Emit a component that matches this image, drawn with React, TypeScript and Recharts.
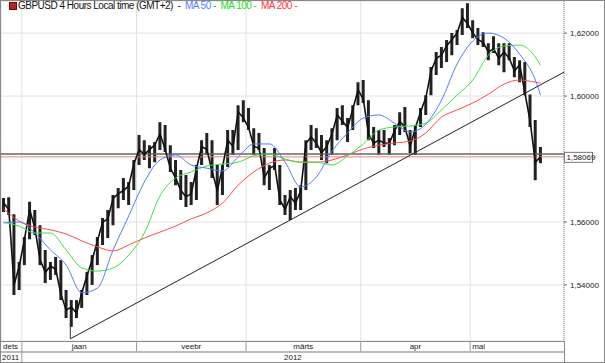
import React from "react";
import {
  ComposedChart, Bar, Line, XAxis, YAxis, CartesianGrid, ReferenceLine,
} from "recharts";

// trading days shown per month (Estonian month names as in the terminal)
const MONTHS = ["dets", "jaan", "veebr", "märts", "apr", "mai"];
const MONTH_DAYS = [
  [27, 28, 29, 30],
  [2, 3, 4, 5, 6, 9, 10, 11, 12, 13, 16, 17, 18, 19, 20, 23, 24, 25, 26, 27, 30, 31],
  [1, 2, 3, 6, 7, 8, 9, 10, 13, 14, 15, 16, 17, 20, 21, 22, 23, 24, 27, 28, 29],
  [1, 2, 5, 6, 7, 8, 9, 12, 13, 14, 15, 16, 19, 20, 21, 22, 23, 26, 27, 28, 29, 30],
  [2, 3, 4, 5, 6, 9, 10, 11, 12, 13, 16, 17, 18, 19, 20, 23, 24, 25, 26, 27, 30],
  [1, 2, 3, 4, 7, 8, 9, 10, 11, 14, 15, 16, 17, 18, 21, 22, 23, 24],
];
const YEARS = ["2011", "2012"];
const YEAR_FIRST_MONTH = [0, 1];

// daily high / low / close of GBPUSD
const HIGH = [
  1.5676, 1.5679, 1.5625, 1.5473, 1.5552, 1.5664, 1.5638, 1.5590, 1.5511, 1.5473,
  1.5489, 1.5479, 1.5384, 1.5352, 1.5352, 1.5384, 1.5441, 1.5495, 1.5552, 1.5613,
  1.5638, 1.5686, 1.5708, 1.5740, 1.5727, 1.5797, 1.5876, 1.5860, 1.5844, 1.5854,
  1.5917, 1.5908, 1.5844, 1.5797, 1.5765, 1.5749, 1.5727, 1.5781, 1.5860, 1.5883,
  1.5860, 1.5781, 1.5781, 1.5892, 1.5892, 1.5971, 1.5987, 1.5962, 1.5898, 1.5883,
  1.5835, 1.5781, 1.5835, 1.5781, 1.5686, 1.5702, 1.5708, 1.5717, 1.5860, 1.5908,
  1.5898, 1.5876, 1.5860, 1.5898, 1.5962, 1.5971, 1.5930, 1.5971, 1.6044, 1.6051,
  1.5987, 1.5902, 1.5892, 1.5892, 1.5867, 1.5908, 1.5949, 1.5965, 1.5892, 1.5908,
  1.5962, 1.6003, 1.6092, 1.6140, 1.6156, 1.6178, 1.6200, 1.6210, 1.6279, 1.6295,
  1.6241, 1.6216, 1.6203, 1.6168, 1.6190, 1.6168, 1.6168, 1.6168, 1.6124, 1.6114,
  1.6108, 1.6005, 1.5924, 1.5838,
];
const LOW = [
  1.5632, 1.5622, 1.5368, 1.5384, 1.5463, 1.5545, 1.5559, 1.5463, 1.5406, 1.5416,
  1.5432, 1.5352, 1.5295, 1.5267, 1.5295, 1.5327, 1.5368, 1.5400, 1.5463, 1.5527,
  1.5549, 1.5590, 1.5644, 1.5670, 1.5654, 1.5702, 1.5781, 1.5797, 1.5771, 1.5790,
  1.5829, 1.5822, 1.5759, 1.5717, 1.5670, 1.5648, 1.5654, 1.5670, 1.5781, 1.5813,
  1.5740, 1.5654, 1.5686, 1.5775, 1.5813, 1.5829, 1.5917, 1.5892, 1.5813, 1.5829,
  1.5717, 1.5702, 1.5765, 1.5654, 1.5622, 1.5606, 1.5638, 1.5638, 1.5702, 1.5829,
  1.5835, 1.5797, 1.5787, 1.5813, 1.5860, 1.5908, 1.5854, 1.5892, 1.5971, 1.5978,
  1.5860, 1.5835, 1.5813, 1.5838, 1.5813, 1.5844, 1.5876, 1.5886, 1.5819, 1.5813,
  1.5902, 1.5940, 1.6003, 1.6067, 1.6089, 1.6108, 1.6130, 1.6162, 1.6194, 1.6216,
  1.6184, 1.6162, 1.6156, 1.6114, 1.6137, 1.6098, 1.6076, 1.6114, 1.6060, 1.6044,
  1.6003, 1.5902, 1.5733, 1.5787,
];
const CLOSE = [
  1.5660, 1.5640, 1.5400, 1.5460, 1.5545, 1.5640, 1.5580, 1.5480, 1.5440, 1.5460,
  1.5450, 1.5370, 1.5320, 1.5330, 1.5310, 1.5375, 1.5430, 1.5480, 1.5540, 1.5600,
  1.5610, 1.5675, 1.5690, 1.5700, 1.5715, 1.5785, 1.5830, 1.5815, 1.5830, 1.5845,
  1.5880, 1.5830, 1.5770, 1.5740, 1.5700, 1.5680, 1.5690, 1.5770, 1.5840, 1.5830,
  1.5760, 1.5700, 1.5775, 1.5860, 1.5840, 1.5950, 1.5930, 1.5900, 1.5840, 1.5835,
  1.5740, 1.5770, 1.5780, 1.5670, 1.5640, 1.5680, 1.5660, 1.5700, 1.5850, 1.5870,
  1.5850, 1.5820, 1.5840, 1.5880, 1.5940, 1.5920, 1.5900, 1.5960, 1.6020, 1.5990,
  1.5880, 1.5850, 1.5860, 1.5850, 1.5850, 1.5890, 1.5920, 1.5900, 1.5840, 1.5900,
  1.5950, 1.5995, 1.6080, 1.6120, 1.6130, 1.6160, 1.6180, 1.6200, 1.6250, 1.6230,
  1.6200, 1.6180, 1.6170, 1.6140, 1.6150, 1.6120, 1.6140, 1.6120, 1.6080, 1.6100,
  1.6010, 1.5920, 1.5790, 1.58069,
];

// moving averages, read every third bar
const MA_AT = [
  0, 3, 6, 9, 12, 15, 18, 21, 24, 27, 30, 33, 36, 39, 42, 45, 48, 51,
  54, 57, 60, 63, 66, 69, 72, 75, 78, 81, 84, 87, 90, 93, 96, 99, 102, 103,
];
const MA50 = [
  1.5597, 1.5600, 1.5565, 1.5511, 1.5463, 1.5375, 1.5390, 1.5511, 1.5619, 1.5727,
  1.5797, 1.5813, 1.5781, 1.5771, 1.5762, 1.5806, 1.5848, 1.5848, 1.5790, 1.5711,
  1.5743, 1.5825, 1.5883, 1.5930, 1.5940, 1.5914, 1.5886, 1.5911, 1.5987, 1.6102,
  1.6175, 1.6200, 1.6184, 1.6133, 1.6051, 1.6003,
];
const MA100 = [
  1.5600, 1.5587, 1.5565, 1.5565, 1.5511, 1.5454, 1.5444, 1.5454, 1.5495, 1.5565,
  1.5683, 1.5740, 1.5759, 1.5778, 1.5784, 1.5790, 1.5810, 1.5816, 1.5800, 1.5790,
  1.5790, 1.5781, 1.5810, 1.5848, 1.5892, 1.5902, 1.5905, 1.5914, 1.5956, 1.6003,
  1.6051, 1.6130, 1.6159, 1.6162, 1.6124, 1.6098,
];
const MA200 = [
  1.5641, 1.5603, 1.5584, 1.5575, 1.5562, 1.5540, 1.5521, 1.5508, 1.5527, 1.5549,
  1.5568, 1.5587, 1.5610, 1.5629, 1.5660, 1.5717, 1.5759, 1.5787, 1.5797, 1.5790,
  1.5790, 1.5797, 1.5813, 1.5832, 1.5844, 1.5851, 1.5857, 1.5883, 1.5933, 1.5956,
  1.5978, 1.6006, 1.6038, 1.6051, 1.6044, 1.6041,
];

const LAST_PRICE = 1.58069;
const BID_LINE = 1.5816;
const TREND = [{ t: 13.3, v: 1.5229 }, { t: 108, v: 1.6076 }];
const TREND_ANCHOR = 1.528;
const Y_TICKS = [1.54, 1.56, 1.6, 1.62];
const Y_DOMAIN: [number, number] = [1.5222, 1.6302];

const W = 605;
const H = 363;
const AXIS_W = 41;
const AXIS_H = 22;
const FONT = "'Liberation Sans', Arial, sans-serif";

const monthStart: number[] = [];
const rows: any[] = [];
MONTH_DAYS.forEach((days, m) => {
  monthStart.push(rows.length);
  days.forEach((d) => {
    const i = rows.length;
    const k = MA_AT.indexOf(i);
    rows.push({
      t: i + 0.5,
      date: `${d}. ${MONTHS[m]}`,
      range: i < HIGH.length ? [LOW[i], HIGH[i]] : null,
      close: i < CLOSE.length ? CLOSE[i] : null,
      ma50: k >= 0 ? MA50[k] : null,
      ma100: k >= 0 ? MA100[k] : null,
      ma200: k >= 0 ? MA200[k] : null,
    });
  });
});
const N = rows.length;
const PLOT_W = W - 1 - AXIS_W;
const PX = PLOT_W / N;
const fmt = (v: number) => v.toFixed(5).replace(".", ",");

function MonthTick(props: any) {
  const { x, y, payload } = props;
  const m = monthStart.indexOf(payload.value);
  if (m < 0) return null;
  const w = MONTH_DAYS[m].length * PX;
  const edge = m === 0 || m === MONTHS.length - 1;
  const right = 1 + PLOT_W;
  return (
    <g fontFamily={FONT}>
      {m > 0 && <line x1={x} x2={x} y1={y} y2={y + 10} stroke="#9a9a9a" />}
      <text x={edge ? x + 2 : x + w / 2} y={y + 8} textAnchor={edge ? "start" : "middle"}
        fontSize={8} fill="#222">{MONTHS[m]}</text>
      {m === 0 && (
        <g>
          <line x1={0} x2={right} y1={y + 0.5} y2={y + 0.5} stroke="#888" />
          <line x1={0} x2={right} y1={y + 11} y2={y + 11} stroke="#bbb" strokeWidth={2} />
          <line x1={right + 0.5} x2={right + 0.5} y1={y} y2={y + 21} stroke="#888" />
          {YEARS.map((yr, k) => {
            const s = 1 + monthStart[YEAR_FIRST_MONTH[k]] * PX;
            const e = k + 1 < YEARS.length ? 1 + monthStart[YEAR_FIRST_MONTH[k + 1]] * PX : right;
            return (
              <g key={yr}>
                {k > 0 && <line x1={s} x2={s} y1={y + 10} y2={y + 21} stroke="#9a9a9a" />}
                <text x={k === 0 ? s + 1 : (s + e) / 2} y={y + 19} fontSize={8} fill="#222"
                  textAnchor={k === 0 ? "start" : "middle"}>{yr}</text>
              </g>
            );
          })}
        </g>
      )}
    </g>
  );
}

function PriceTick(props: any) {
  const { x, y, payload } = props;
  return (
    <text x={x + 1} y={y + 3} fontSize={8} fontFamily={FONT} fill="#222">{fmt(payload.value)}</text>
  );
}

function LastPriceLabel(props: any) {
  const vb = props.viewBox || {};
  const x = vb.x + vb.width;
  const y = vb.y;
  return (
    <g fontFamily={FONT}>
      <rect x={x + 0.5} y={y - 4.5} width={28} height={10} fill="#fff" stroke="#777" />
      <text x={x + 2.5} y={y + 3} fontSize={8} fill="#222">{fmt(LAST_PRICE)}</text>
    </g>
  );
}

export default function App() {
  return (
    <div style={{ position: "absolute", left: 0, top: 0, width: W, height: H, background: "#fff" }}>
      <ComposedChart width={W} height={H} data={rows} margin={{ top: 1, right: 0, left: 1, bottom: 0 }}>
        <CartesianGrid stroke="#e2e2e2" />
        <XAxis
          dataKey="t"
          type="number"
          domain={[0, N]}
          ticks={monthStart}
          interval={0}
          height={AXIS_H}
          tickSize={0}
          tickMargin={0}
          axisLine={false}
          tick={<MonthTick />}
        />
        <YAxis
          orientation="right"
          width={AXIS_W}
          domain={Y_DOMAIN}
          ticks={Y_TICKS}
          allowDataOverflow
          axisLine={{ stroke: "#888", strokeDasharray: "1 1" }}
          tickLine={{ stroke: "#666" }}
          tickSize={3}
          tick={<PriceTick />}
        />
        <ReferenceLine y={BID_LINE} stroke="#666" strokeWidth={1.5} />
        <ReferenceLine y={LAST_PRICE} stroke="#f08080" label={<LastPriceLabel />} />
        <Bar dataKey="range" fill="#222" barSize={3} isAnimationActive={false} />
        <Line type="linear" dataKey="close" stroke="#111" strokeWidth={1.6} dot={false} isAnimationActive={false} />
        <Line type="monotone" dataKey="ma200" stroke="#ff4a4a" strokeWidth={1} dot={false} connectNulls isAnimationActive={false} />
        <Line type="monotone" dataKey="ma100" stroke="#3ee03e" strokeWidth={1} dot={false} connectNulls isAnimationActive={false} />
        <Line type="monotone" dataKey="ma50" stroke="#4f7dff" strokeWidth={1} dot={false} connectNulls isAnimationActive={false} />
        <ReferenceLine segment={[{ x: TREND[0].t, y: TREND_ANCHOR }, { x: TREND[0].t, y: TREND[0].v }]} stroke="#333" />
        <ReferenceLine segment={[{ x: TREND[0].t, y: TREND[0].v }, { x: TREND[1].t, y: TREND[1].v }]} stroke="#222" />
      </ComposedChart>
      <div style={{
        position: "absolute", left: 9, top: 0, display: "flex", alignItems: "center",
        fontFamily: FONT, fontSize: 10, lineHeight: "11px", whiteSpace: "pre", letterSpacing: -0.5,
      }}>
        <span style={{ width: 6, height: 6, background: "#a52a2a", marginRight: 1, border: "0.5px solid #700" }} />
        <span style={{ color: "#111" }}>GBPUSD 4 Hours Local time (GMT+2)  -  </span>
        <span style={{ color: "#4f7dff" }}>MA 50 -  </span>
        <span style={{ color: "#22dd22" }}>MA 100 -  </span>
        <span style={{ color: "#ff3333" }}>MA 200 -</span>
      </div>
      <div style={{
        position: "absolute", left: 0, top: 0, width: W, height: H, boxSizing: "border-box",
        border: "1px solid #888", pointerEvents: "none",
      }} />
    </div>
  );
}
